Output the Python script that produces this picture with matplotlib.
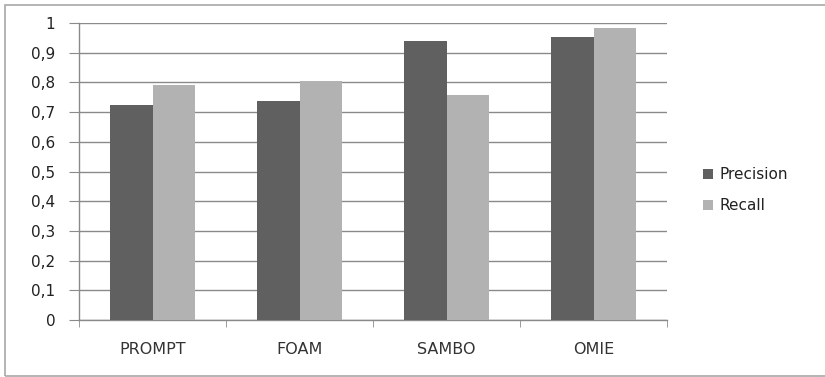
import matplotlib
matplotlib.use("Agg")
import matplotlib.pyplot as plt
from matplotlib.patches import Rectangle, Patch
import numpy as np

categories = ["PROMPT", "FOAM", "SAMBO", "OMIE"]
precision = [0.723, 0.736, 0.941, 0.954]
recall = [0.792, 0.806, 0.758, 0.984]
y_ticks = [0, 0.1, 0.2, 0.3, 0.4, 0.5, 0.6, 0.7, 0.8, 0.9, 1.0]
y_labels = ["0", "0,1", "0,2", "0,3", "0,4", "0,5", "0,6", "0,7", "0,8", "0,9", "1"]

plt.rcParams["font.family"] = ["DejaVu Sans"]

W, H = 825, 377
fig = plt.figure(figsize=(W / 100, H / 100), dpi=100)
fig.patch.set_facecolor("white")

# chart-area border
fig.add_artist(Rectangle((5 / W, 1 - 376 / H), 1.2, 371 / H, transform=fig.transFigure,
                         fill=False, edgecolor="#a8a8a8", linewidth=1.2))

ax = fig.add_axes([79 / W, 1 - 320 / H, (667 - 79) / W, (320 - 23) / H])
x = np.arange(len(categories))
bw = 0.29
dark, light = "#606060", "#b2b2b2"
ax.bar(x - bw / 2, precision, bw, color=dark, zorder=3, label="Precision")
ax.bar(x + bw / 2, recall, bw, color=light, zorder=3, label="Recall")

ax.set_xlim(-0.5, len(categories) - 0.5)
ax.set_ylim(0, 1.0)
ax.set_yticks(y_ticks)
ax.set_yticklabels(y_labels)
ax.yaxis.grid(True, color="#8a8a8a", linewidth=1.0, zorder=0)
ax.set_axisbelow(True)

ax.set_xticks(x)
ax.set_xticklabels(categories)
ax.set_xticks(np.arange(-0.5, len(categories)), minor=True)
ax.tick_params(axis="x", which="major", length=0, pad=16, labelsize=11.5, labelcolor="#333333")
ax.tick_params(axis="x", which="minor", length=5, color="#8a8a8a", direction="out")
ax.tick_params(axis="y", length=7, color="#8a8a8a", pad=10, labelsize=11, labelcolor="#222222")

for s in ["top", "right"]:
    ax.spines[s].set_visible(False)
for s in ["left", "bottom"]:
    ax.spines[s].set_color("#8a8a8a")
    ax.spines[s].set_linewidth(1.0)

handles = [Patch(facecolor=dark, edgecolor="none"), Patch(facecolor=light, edgecolor="none")]
fig.legend(handles, ["Precision", "Recall"], loc="center left",
           bbox_to_anchor=(703 / W, 1 - 190 / H), frameon=False, fontsize=11,
           borderpad=0, borderaxespad=0,
           handlelength=0.65, handleheight=0.65, handletextpad=0.45, labelspacing=1.05,
           labelcolor="#222222")

fig.savefig("out.png", dpi=100)
